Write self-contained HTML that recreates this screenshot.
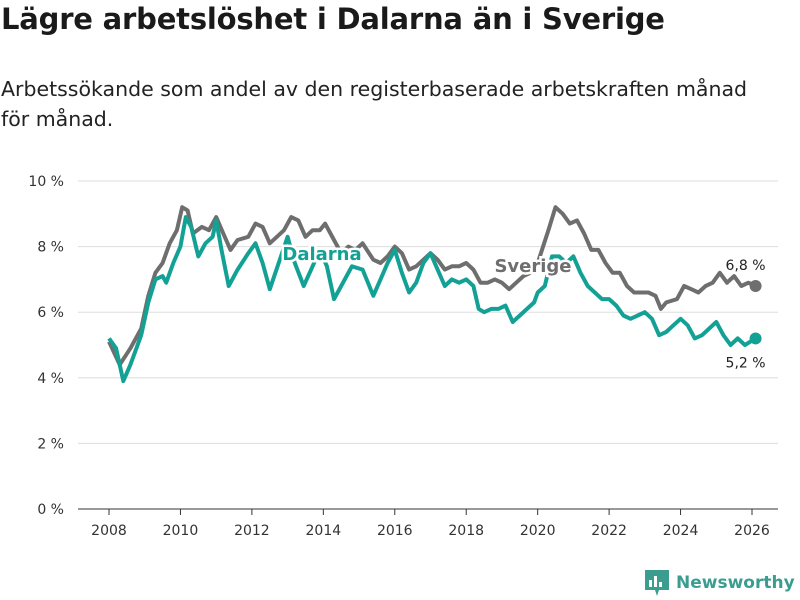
<!DOCTYPE html>
<html><head><meta charset="utf-8"><style>
body{margin:0;width:800px;height:600px;background:#fff;font-family:"DejaVu Sans","Liberation Sans",sans-serif;overflow:hidden}
h1{position:absolute;left:1px;top:2px;margin:0;font-size:29px;font-weight:bold;color:#1a1a1a;white-space:nowrap;letter-spacing:-0.2px}
p{position:absolute;left:1px;top:74px;margin:0;font-size:20.5px;line-height:30px;color:#222;width:799px;white-space:nowrap}
</style></head><body>
<h1>Lägre arbetslöshet i Dalarna än i Sverige</h1>
<p>Arbetssökande som andel av den registerbaserade arbetskraften månad<br>för månad.</p>
<svg id="c" width="800" height="600" style="position:absolute;left:0;top:0"></svg>
<script>
const sverigeYears=[2008.0,2008.3,2008.6,2008.9,2009.1,2009.3,2009.5,2009.7,2009.9,2010.05,2010.2,2010.35,2010.6,2010.8,2011.0,2011.2,2011.4,2011.6,2011.9,2012.1,2012.3,2012.5,2012.7,2012.9,2013.1,2013.3,2013.5,2013.7,2013.9,2014.05,2014.3,2014.5,2014.7,2014.9,2015.1,2015.4,2015.6,2015.8,2016.0,2016.2,2016.4,2016.6,2016.8,2017.0,2017.2,2017.4,2017.6,2017.8,2018.0,2018.2,2018.4,2018.6,2018.8,2019.0,2019.2,2019.4,2019.6,2019.8,2020.0,2020.3,2020.5,2020.7,2020.9,2021.1,2021.3,2021.5,2021.7,2021.9,2022.1,2022.3,2022.5,2022.7,2022.9,2023.1,2023.3,2023.45,2023.6,2023.9,2024.1,2024.3,2024.5,2024.7,2024.9,2025.1,2025.3,2025.5,2025.7,2025.9,2026.1];
const sverigeValues=[5.1,4.4,4.9,5.5,6.5,7.2,7.5,8.1,8.5,9.2,9.1,8.4,8.6,8.5,8.9,8.4,7.9,8.2,8.3,8.7,8.6,8.1,8.3,8.5,8.9,8.8,8.3,8.5,8.5,8.7,8.2,7.8,8.0,7.9,8.1,7.6,7.5,7.7,8.0,7.8,7.3,7.4,7.6,7.8,7.6,7.3,7.4,7.4,7.5,7.3,6.9,6.9,7.0,6.9,6.7,6.9,7.1,7.2,7.5,8.5,9.2,9.0,8.7,8.8,8.4,7.9,7.9,7.5,7.2,7.2,6.8,6.6,6.6,6.6,6.5,6.1,6.3,6.4,6.8,6.7,6.6,6.8,6.9,7.2,6.9,7.1,6.8,6.9,6.8];
const dalarnaYears=[2008.0,2008.2,2008.4,2008.6,2008.9,2009.1,2009.3,2009.5,2009.6,2009.8,2010.0,2010.15,2010.3,2010.5,2010.7,2010.9,2011.0,2011.15,2011.35,2011.6,2011.9,2012.1,2012.3,2012.5,2012.75,2013.0,2013.2,2013.45,2013.7,2013.9,2014.1,2014.3,2014.5,2014.8,2015.1,2015.4,2015.6,2015.8,2016.0,2016.2,2016.4,2016.6,2016.8,2017.0,2017.2,2017.4,2017.6,2017.8,2018.0,2018.2,2018.35,2018.5,2018.7,2018.9,2019.1,2019.3,2019.5,2019.7,2019.9,2020.0,2020.2,2020.4,2020.6,2020.8,2021.0,2021.2,2021.4,2021.6,2021.8,2022.0,2022.2,2022.4,2022.6,2022.8,2023.0,2023.2,2023.4,2023.6,2023.8,2024.0,2024.2,2024.4,2024.6,2024.8,2025.0,2025.2,2025.4,2025.6,2025.8,2026.1];
const dalarnaValues=[5.2,4.9,3.9,4.4,5.3,6.3,7.0,7.1,6.9,7.5,8.0,8.9,8.6,7.7,8.1,8.3,8.8,7.9,6.8,7.3,7.8,8.1,7.5,6.7,7.5,8.3,7.5,6.8,7.4,7.9,7.4,6.4,6.8,7.4,7.3,6.5,7.0,7.5,7.9,7.2,6.6,6.9,7.5,7.8,7.3,6.8,7.0,6.9,7.0,6.8,6.1,6.0,6.1,6.1,6.2,5.7,5.9,6.1,6.3,6.6,6.8,7.7,7.7,7.5,7.7,7.2,6.8,6.6,6.4,6.4,6.2,5.9,5.8,5.9,6.0,5.8,5.3,5.4,5.6,5.8,5.6,5.2,5.3,5.5,5.7,5.3,5.0,5.2,5.0,5.2];
const yTicks=[0,2,4,6,8,10];
const xTicks=[2008,2010,2012,2014,2016,2018,2020,2022,2024,2026];
const ns="http://www.w3.org/2000/svg",svg=document.getElementById('c');
const X=y=>109+(y-2008)*(752-109)/18, Y=v=>509-v*32.8;
function mk(t,a,p){const e=document.createElementNS(ns,t);for(const k in a)e.setAttribute(k,a[k]);(p||svg).appendChild(e);return e;}
yTicks.forEach(v=>{
 const l=mk('line',{x1:78,x2:778,y1:Y(v),y2:Y(v),stroke:v==0?'#333':'#ddd','stroke-width':1});
 
 
 const t=mk('text',{x:64,y:Y(v)+5,'text-anchor':'end','font-size':14,fill:'#333'});t.textContent=v+' %';
 
 
});
xTicks.forEach(y=>{
 const l=mk('line',{x1:X(y),x2:X(y),y1:509,y2:515,stroke:'#333'});
 
 
 const t=mk('text',{x:X(y),y:535,'text-anchor':'middle','font-size':14,fill:'#333'});t.textContent=y;
 
 
});
function line(xs,vs,col,name){
 const d=xs.map((x,i)=>(i?'L':'M')+X(x).toFixed(1)+','+Y(vs[i]).toFixed(1)).join('');
 const p=mk('path',{d:d,fill:'none',stroke:col,'stroke-width':4,'stroke-linejoin':'round'});
 
 
 const n=xs.length-1;
 const c=mk('circle',{cx:X(xs[n]),cy:Y(vs[n]),r:6,fill:col});
 
 
 return [X(xs[n]),Y(vs[n]),vs[n]];
}
const s=line(sverigeYears,sverigeValues,'#6e6e6e','sverige');
const d=line(dalarnaYears,dalarnaValues,'#14a195','dalarna');
let t=mk('text',{x:s[0]-10,y:s[1]-16,'text-anchor':'middle','font-size':14,fill:'#222'});t.textContent=s[2].toFixed(1).replace('.',',')+' %';


t=mk('text',{x:d[0]-10,y:d[1]+29,'text-anchor':'middle','font-size':14,fill:'#222'});t.textContent=d[2].toFixed(1).replace('.',',')+' %';


t=mk('text',{x:322,y:260,'text-anchor':'middle','font-size':18,'font-weight':'bold',fill:'#14a195',stroke:'#fff','stroke-width':5,'paint-order':'stroke'});t.textContent='Dalarna';


t=mk('text',{x:533,y:272,'text-anchor':'middle','font-size':18,'font-weight':'bold',fill:'#6e6e6e',stroke:'#fff','stroke-width':5,'paint-order':'stroke'});t.textContent='Sverige';


</script>
<div style="position:absolute;left:645px;top:570px;display:flex;align-items:center">
<svg width="24" height="26"><path d="M0 0H24V20H14L12 26L10 20H0Z" fill="#3a9d8f"/><rect x="4" y="10" width="3" height="7" fill="#fff"/><rect x="9" y="6" width="3" height="11" fill="#fff"/><rect x="14" y="12" width="3" height="5" fill="#fff"/></svg>
<span style="margin-left:7px;font-size:17px;font-weight:bold;color:#3a9d8f">Newsworthy</span></div>
</body></html>
